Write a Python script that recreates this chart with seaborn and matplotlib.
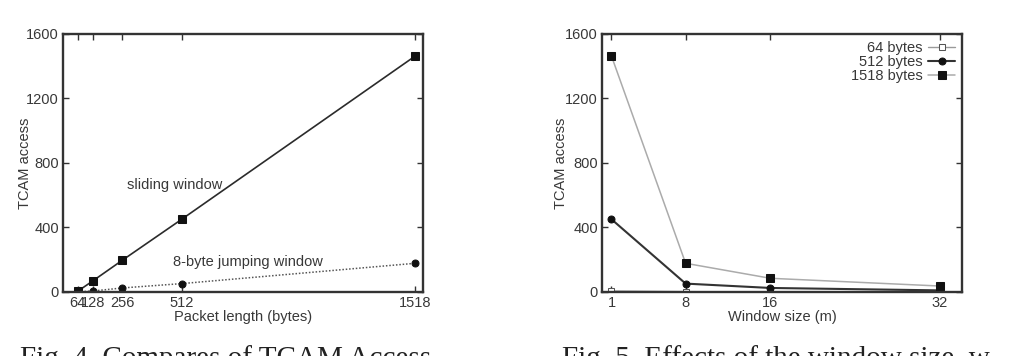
import matplotlib
matplotlib.use("Agg")
import matplotlib.pyplot as plt
import seaborn as sns
import numpy as np

# ---- data ----
packet_lengths = [64, 128, 256, 512, 1518]
sliding_window = [5, 68, 197, 451, 1463]
jumping_window = [1, 6, 25, 52, 178]

window_sizes = [1, 8, 16, 32]
bytes64 = [6, 2, 1, 0.5]
bytes512 = [451, 52, 25, 10]
bytes1518 = [1463, 178, 85, 37]

y_ticks = [0, 400, 800, 1200, 1600]

sns.set_theme(style="white")
plt.rcParams['font.family'] = ['Liberation Sans', 'DejaVu Sans']

fig = plt.figure(figsize=(10.22, 3.56), dpi=100)
fig.patch.set_facecolor('white')

ax1 = fig.add_axes([0.0616, 0.1798, 0.3523, 0.7247])
ax2 = fig.add_axes([0.589, 0.1798, 0.3523, 0.7247])

tick_fs = 10.5
spine_col = '#333333'
txt_col = '#383838'

def style(ax):
    for s in ax.spines.values():
        s.set_linewidth(1.7)
        s.set_color(spine_col)
    ax.tick_params(direction='in', length=4, width=1.0, colors=spine_col,
                   labelcolor=txt_col, labelsize=tick_fs,
                   top=True, right=True, bottom=True, left=True, pad=3)
    ax.set_yticks(y_ticks)
    ax.set_ylim(0, 1600)
    ax.set_facecolor('white')

# ---- left chart ----
sns.lineplot(x=packet_lengths, y=sliding_window, ax=ax1, color='#2b2b2b',
             lw=1.2, marker='s', markersize=5.5, markeredgecolor='#111111',
             markerfacecolor='#111111')
sns.lineplot(x=packet_lengths, y=jumping_window, ax=ax1, color='#555555',
             lw=1.1, linestyle=(0, (1, 1.2)), marker='o', markersize=5,
             markeredgecolor='#111111', markerfacecolor='#111111')
style(ax1)
ax1.set_xlim(0, 1552)
ax1.set_xticks(packet_lengths)
ax1.set_xticklabels([str(v) for v in packet_lengths])
ax1.set_xlabel('Packet length (bytes)', fontsize=tick_fs, color=txt_col, labelpad=0)
ax1.set_ylabel('TCAM access', fontsize=tick_fs, color=txt_col)
ax1.yaxis.set_label_coords(-0.086, 0.5)
ax1.text(276, 663, 'sliding window', fontsize=tick_fs, color=txt_col, va='center')
ax1.text(474, 186, '8-byte jumping window', fontsize=tick_fs, color=txt_col, va='center')

# ---- right chart ----
sns.lineplot(x=window_sizes, y=bytes64, ax=ax2, color='#9a9a9a', lw=1.0,
             marker='s', markersize=5, markerfacecolor='white',
             markeredgecolor='#555555', label='64 bytes')
sns.lineplot(x=window_sizes, y=bytes512, ax=ax2, color='#333333', lw=1.5,
             marker='o', markersize=5, markerfacecolor='#111111',
             markeredgecolor='#111111', label='512 bytes')
sns.lineplot(x=window_sizes, y=bytes1518, ax=ax2, color='#ababab', lw=1.1,
             marker='s', markersize=5.5, markerfacecolor='#111111',
             markeredgecolor='#111111', label='1518 bytes')
style(ax2)
ax2.set_xlim(0.1, 34.1)
ax2.set_xticks(window_sizes)
ax2.set_xticklabels([str(v) for v in window_sizes])
ax2.set_xlabel('Window size (m)', fontsize=tick_fs, color=txt_col, labelpad=0)
ax2.set_ylabel('TCAM access', fontsize=tick_fs, color=txt_col)
ax2.yaxis.set_label_coords(-0.094, 0.5)
leg = ax2.legend(loc='upper right', frameon=False, markerfirst=False,
                 fontsize=tick_fs, handlelength=1.8, handletextpad=0.4,
                 labelspacing=0.0, borderaxespad=0.1)
for t in leg.get_texts():
    t.set_color(txt_col)

# ---- captions (cut off at the bottom as in the reference) ----
fig.text(0.020, 0.030, 'Fig. 4. Compares of TCAM Access', family=['Liberation Serif'],
         fontsize=21, color='#222222', va='top')
fig.text(0.550, 0.030, 'Fig. 5. Effects of the window size  w', family=['Liberation Serif'],
         fontsize=21, color='#222222', va='top')

fig.savefig('out.png', dpi=100, facecolor='white')
